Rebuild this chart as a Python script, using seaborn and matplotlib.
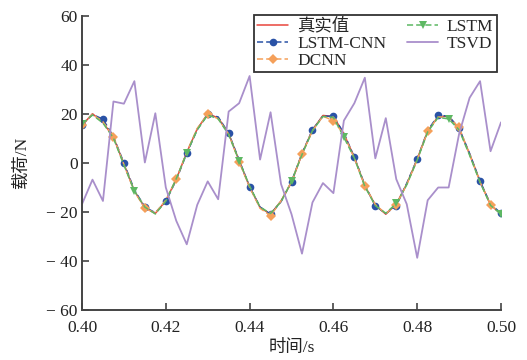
import numpy as np
import pandas as pd
import matplotlib
matplotlib.use("Agg")
import matplotlib.pyplot as plt
import seaborn as sns

# time grid (s)
t = [0.4000, 0.4025, 0.4050, 0.4075, 0.4100, 0.4125, 0.4150, 0.4175, 0.4200, 0.4225,
     0.4250, 0.4275, 0.4300, 0.4325, 0.4350, 0.4375, 0.4400, 0.4425, 0.4450, 0.4475,
     0.4500, 0.4525, 0.4550, 0.4575, 0.4600, 0.4625, 0.4650, 0.4675, 0.4700, 0.4725,
     0.4750, 0.4775, 0.4800, 0.4825, 0.4850, 0.4875, 0.4900, 0.4925, 0.4950, 0.4975,
     0.5000]

true_val = [15.3, 20.1, 16.6, 10.5, -0.4, -11.4, -18.2, -20.6, -15.4, -6.6,
            4.3, 13.9, 20.1, 18.4, 12.1, 0.9, -9.7, -18.2, -20.9, -15.5,
            -7.9, 3.7, 13.5, 19.4, 19.0, 11.9, 2.3, -9.3, -17.2, -20.9,
            -16.8, -8.6, 1.6, 13.0, 19.0, 19.0, 13.9, 3.7, -7.5, -17.1,
            -20.9]

lstm_cnn = [15.6, 19.8, 17.9, 10.8, 0.0, -11.0, -18.0, -20.3, -15.7, -6.9,
            4.0, 13.6, 19.8, 18.8, 12.1, 1.2, -9.7, -18.0, -20.9, -15.8,
            -7.6, 3.9, 13.5, 19.2, 19.0, 12.2, 2.3, -9.0, -17.5, -20.6,
            -17.5, -8.3, 1.6, 13.3, 19.4, 19.2, 14.1, 3.9, -7.5, -16.8,
            -20.5]

dcnn = [15.5, 19.9, 16.8, 10.8, -0.6, -11.6, -18.5, -20.4, -15.2, -6.7,
        4.5, 14.1, 19.8, 18.1, 11.8, 0.5, -9.9, -18.5, -21.5, -15.5,
        -7.7, 3.7, 13.2, 19.1, 17.3, 11.6, 2.0, -9.3, -17.0, -20.7,
        -17.0, -8.8, 1.4, 13.0, 18.8, 18.7, 14.5, 3.5, -7.8, -17.0,
        -20.7]

lstm = [16.0, 19.6, 16.3, 10.2, -0.8, -11.4, -18.0, -20.8, -15.6, -6.4,
        4.1, 13.6, 19.6, 18.0, 11.6, 0.9, -9.4, -18.0, -20.6, -15.8,
        -7.5, 3.4, 13.2, 19.0, 18.6, 10.5, 2.0, -9.6, -17.4, -20.5,
        -16.5, -8.9, 1.2, 12.7, 18.6, 18.0, 13.5, 3.2, -7.9, -17.3,
        -20.9]

tsvd = [-16.8, -6.8, -15.5, 25.1, 24.2, 33.4, 0.2, 20.3, -10.0, -23.6,
        -33.2, -17.1, -7.5, -14.8, 21.0, 24.4, 35.5, 1.4, 20.7, -8.6,
        -20.9, -37.0, -16.1, -8.2, -12.3, 17.3, 24.4, 34.8, 1.9, 18.3,
        -6.6, -16.8, -38.7, -15.2, -10.0, -10.0, 11.9, 26.6, 33.4, 4.8,
        16.6]

labels = ["真实值", "LSTM-CNN", "DCNN", "LSTM", "TSVD"]
x_ticks = [0.40, 0.42, 0.44, 0.46, 0.48, 0.50]
y_ticks = [-60, -40, -20, 0, 20, 40, 60]

df = pd.DataFrame({"t": t, "true": true_val, "lstm_cnn": lstm_cnn,
                   "dcnn": dcnn, "lstm": lstm, "tsvd": tsvd})

sns.set_style("ticks")
plt.rcParams["font.family"] = ["Liberation Serif", "Noto Sans CJK SC", "DejaVu Sans"]
plt.rcParams["axes.unicode_minus"] = True

fig = plt.figure(figsize=(5.27, 3.6), dpi=100)
ax = fig.add_axes([0.1556, 0.1389, 0.7951, 0.8167])

sns.lineplot(data=df, x="t", y="true", ax=ax, color="#E8453C", lw=1.1,
             label=labels[0])
sns.lineplot(data=df, x="t", y="lstm_cnn", ax=ax, color="#2A52A6", lw=1.1,
             linestyle=(0, (4, 2)), marker="o", markersize=5.5,
             markeredgewidth=0, markevery=2, label=labels[1])
sns.lineplot(data=df, x="t", y="dcnn", ax=ax, color="#F5A05A", lw=1.1,
             linestyle=(0, (4, 2)), marker="D", markersize=5,
             markeredgewidth=0, markevery=3, label=labels[2])
sns.lineplot(data=df, x="t", y="lstm", ax=ax, color="#5DB863", lw=1.1,
             linestyle=(0, (4, 2)), marker="v", markersize=6,
             markeredgewidth=0, markevery=5, label=labels[3])
sns.lineplot(data=df, x="t", y="tsvd", ax=ax, color="#A98FCB", lw=1.3,
             label=labels[4])

ax.set_xlim(0.40, 0.50)
ax.set_ylim(-60, 60)
ax.set_xticks(x_ticks)
ax.set_xticklabels([f"{v:.2f}" for v in x_ticks])
ax.set_yticks(y_ticks)
ax.set_yticklabels([("\u2212 " + str(-v)) if v < 0 else str(v) for v in y_ticks])

for side in ["top", "right"]:
    ax.spines[side].set_visible(False)
for side in ["left", "bottom"]:
    ax.spines[side].set_color("#444444")
    ax.spines[side].set_linewidth(1.4)
ax.tick_params(direction="in", length=5, width=1.2, color="#444444",
               labelsize=12.5, labelcolor="#222222")
ax.tick_params(axis="x", pad=7)
ax.tick_params(axis="y", pad=3)

ax.set_xlabel("时间/s", fontsize=12.5, color="#222222", labelpad=3)
ax.set_ylabel("载荷/N", fontsize=12.5, color="#222222", labelpad=12)

leg = ax.legend(ncol=2, loc="upper right", bbox_to_anchor=(0.99, 1.005),
                borderaxespad=0, fontsize=12.5, frameon=True, fancybox=False,
                framealpha=1, edgecolor="#333333", labelspacing=0.05,
                handlelength=1.8, handletextpad=0.5, columnspacing=1.2,
                borderpad=0.2)
leg.get_frame().set_linewidth(1.3)

fig.savefig("out.png", dpi=100)
